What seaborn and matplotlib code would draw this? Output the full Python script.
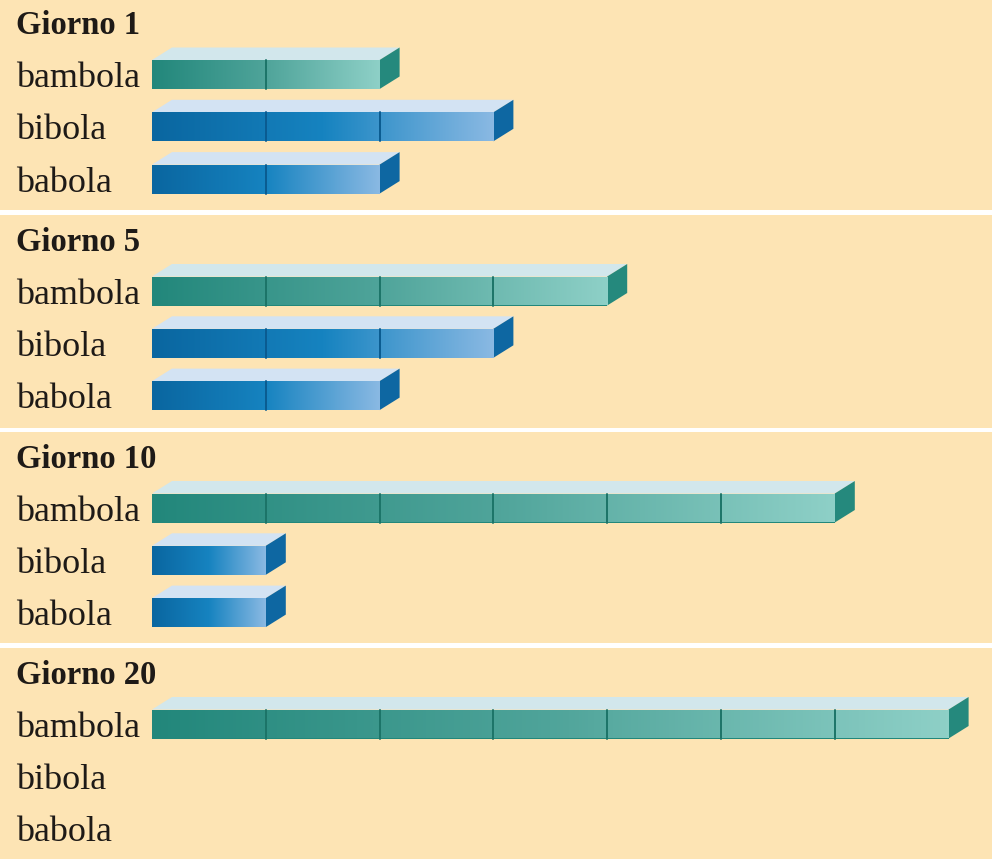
import numpy as np
import pandas as pd
import matplotlib
matplotlib.use("Agg")
import matplotlib.pyplot as plt
import seaborn as sns
from matplotlib.patches import Polygon
from matplotlib.colors import LinearSegmentedColormap

# ---- data ----
days = ["Giorno 1", "Giorno 5", "Giorno 10", "Giorno 20"]
words = ["bambola", "bibola", "babola"]
bambola = [2, 4, 6, 7]
bibola = [3, 3, 1, 0]
babola = [2, 2, 1, 0]

# ---- styling ----
BG = "#FDE4B4"
W, H = 992, 859
sns.set_theme(style="white")
plt.rcParams["font.family"] = ["Liberation Serif", "DejaVu Serif"]

front_cmaps = {
    "bambola": LinearSegmentedColormap.from_list("t", ["#22877B", "#4FA49A", "#8ED0C7"]),
    "bibola": LinearSegmentedColormap.from_list("b1", ["#0A66A0", "#1683C0", "#8AB9E3"]),
    "babola": LinearSegmentedColormap.from_list("b2", ["#0A66A0", "#1683C0", "#8AB9E3"]),
}
side_col = {"bambola": "#25897D", "bibola": "#0E67A2", "babola": "#0E67A2"}
top_col = {"bambola": "#D2E7EC", "bibola": "#D3E3F3", "babola": "#D3E3F3"}
line_col = {"bambola": "#1C7468", "bibola": "#0A5B90", "babola": "#0A5B90"}
palette = {"bambola": "#22877B", "bibola": "#0A66A0", "babola": "#0A66A0"}

# panel pixel extents and layout (pixels)
panels_px = [(0, 210), (215, 428), (432, 643), (648, 859)]
row0_px = [74.5, 291, 508, 724]
row_step = 52.3
x0_px = 152.0
unit_px = 113.8
bar_h_px = 29.0
dx_px, dy_px = 20.0, 12.5

fig = plt.figure(figsize=(W / 100, H / 100), dpi=100)
fig.patch.set_facecolor("white")

for i, day in enumerate(days):
    top, bot = panels_px[i]
    ax = fig.add_axes([0, 1 - bot / H, 1, (bot - top) / H])
    df = pd.DataFrame({"word": words,
                       "count": [bambola[i], bibola[i], babola[i]]})
    sns.barplot(data=df, x="count", y="word", hue="word", palette=palette,
                orient="h", width=bar_h_px / row_step, ax=ax, legend=False,
                saturation=1, linewidth=0)
    ax.set_facecolor(BG)
    r0 = row0_px[i]
    ax.set_xlim(-x0_px / unit_px, (W - x0_px) / unit_px)
    ax.set_ylim((bot - r0) / row_step, (top - r0) / row_step)
    ax.set_xticks([])
    ax.set_yticks([])
    ax.set_xlabel("")
    ax.set_ylabel("")
    for sp in ax.spines.values():
        sp.set_visible(False)

    ddx = dx_px / unit_px
    ddy = dy_px / row_step
    for patch, word in zip(ax.patches, words):
        x, y = patch.get_x(), patch.get_y()
        w, h = patch.get_width(), patch.get_height()
        if w <= 0:
            continue
        # gradient front face
        grad = np.linspace(0, 1, 256).reshape(1, -1)
        im = ax.imshow(grad, cmap=front_cmaps[word], aspect="auto",
                       extent=[x, x + w, y + h, y], zorder=3)
        im.set_clip_path(patch)
        # top face
        ax.add_patch(Polygon([(x, y), (x + ddx, y - ddy), (x + w + ddx, y - ddy), (x + w, y)],
                             closed=True, facecolor=top_col[word], edgecolor="none", zorder=2))
        # side face
        ax.add_patch(Polygon([(x + w, y), (x + w + ddx, y - ddy), (x + w + ddx, y + h - ddy), (x + w, y + h)],
                             closed=True, facecolor=side_col[word], edgecolor="none", zorder=2))
        # unit segment lines
        for k in range(1, int(round(w))):
            ax.plot([x + k, x + k], [y, y + h], color=line_col[word], lw=1.4, zorder=4)
    ax.set_xlim(-x0_px / unit_px, (W - x0_px) / unit_px)
    ax.set_ylim((bot - r0) / row_step, (top - r0) / row_step)

    # labels
    lx = (16 - x0_px) / unit_px
    ax.text(lx, -52.5 / row_step + 0.07, day, fontsize=23.5, fontweight="bold",
            color="#1E1A17", ha="left", va="center")
    for j, word in enumerate(words):
        ax.text(lx, j + 0.08, word, fontsize=26, color="#1E1A17", ha="left", va="center")

fig.savefig("out.png", dpi=100, facecolor=fig.get_facecolor())
